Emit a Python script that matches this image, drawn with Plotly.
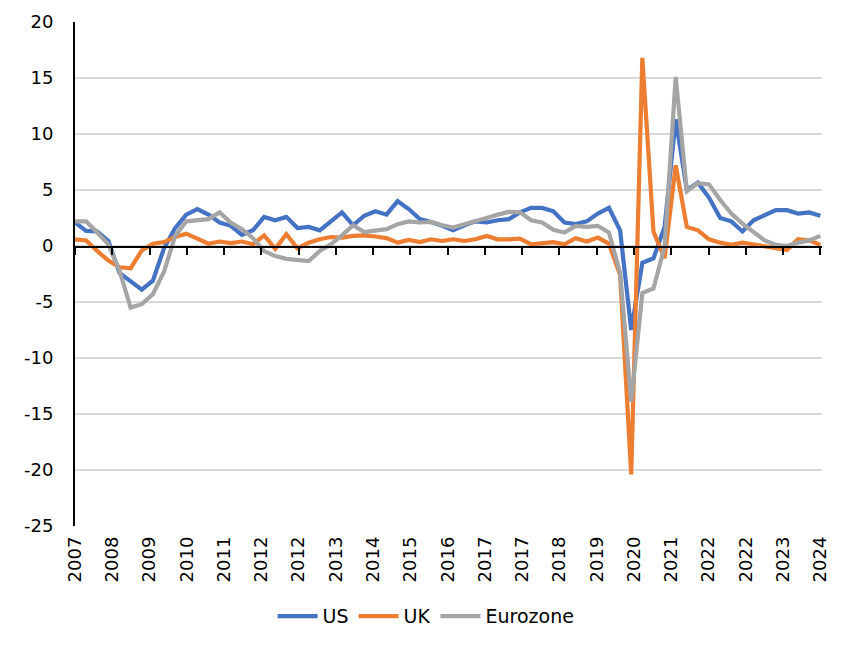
import plotly.graph_objects as go

# Quarterly data, 68 points
us = [2.1, 1.35, 1.3, 0.45, -2.4, -3.1, -3.9, -3.1, -0.2, 1.6,
      2.8, 3.3, 2.8, 2.1, 1.8, 1.0, 1.4, 2.6, 2.3, 2.6,
      1.6, 1.7, 1.4, 2.2, 3.0, 1.85, 2.7, 3.1, 2.8, 4.0,
      3.3, 2.4, 2.15, 1.8, 1.4, 1.85, 2.2, 2.1, 2.3, 2.4,
      3.0, 3.4, 3.4, 3.1, 2.1, 1.95, 2.2, 2.9, 3.4, 1.4,
      -7.5, -1.5, -1.1, 1.7, 11.3, 5.0, 5.65, 4.3, 2.5, 2.2,
      1.3, 2.3, 2.8, 3.2, 3.2, 2.9, 3.0, 2.7]
uk = [0.6, 0.5, -0.45, -1.3, -1.9, -2.0, -0.4, 0.2, 0.35, 0.8,
      1.1, 0.6, 0.2, 0.4, 0.25, 0.4, 0.15, 0.95, -0.25, 1.05,
      -0.2, 0.3, 0.6, 0.8, 0.75, 0.9, 0.95, 0.85, 0.7, 0.3,
      0.55, 0.35, 0.6, 0.45, 0.6, 0.45, 0.6, 0.9, 0.6, 0.6,
      0.65, 0.15, 0.25, 0.35, 0.15, 0.7, 0.4, 0.75, 0.2, -2.6,
      -20.4, 16.8, 1.3, -1.1, 7.2, 1.7, 1.4, 0.6, 0.3, 0.1,
      0.3, 0.15, 0.0, -0.2, -0.35, 0.6, 0.5, 0.1]
eurozone = [2.2, 2.2, 1.2, 0.15, -2.2, -5.5, -5.2, -4.3, -2.3, 0.9,
            2.2, 2.3, 2.4, 3.0, 2.1, 1.5, 0.7, -0.45, -0.9, -1.15,
            -1.25, -1.35, -0.45, 0.15, 0.95, 1.85, 1.25, 1.4, 1.5, 1.95,
            2.2, 2.1, 2.15, 1.85, 1.65, 1.95, 2.2, 2.5, 2.8, 3.05,
            3.0, 2.3, 2.1, 1.45, 1.2, 1.8, 1.7, 1.8, 1.2, -2.4,
            -13.9, -4.2, -3.8, -0.05, 15.1, 4.9, 5.6, 5.5, 4.1, 2.9,
            2.0, 1.3, 0.5, 0.1, 0.0, 0.3, 0.5, 0.9]

tick_labels = ["2007", "2008", "2009", "2010", "2011", "2012", "2012", "2013",
               "2014", "2015", "2016", "2017", "2017", "2018", "2019", "2020",
               "2021", "2022", "2022", "2023", "2024"]
y_ticks = [-25, -20, -15, -10, -5, 0, 5, 10, 15, 20]
y_tick_labels = ["-25", "-20", "-15", "-10", "-5", "0", "5", "10", "15", "20"]

n = len(us)
x = list(range(n))
last = n - 1
tick_vals = [last * k / (len(tick_labels) - 1) for k in range(len(tick_labels))]

FONT = "DejaVu Sans"
fig = go.Figure()
series = [("US", us, "#4472C4"), ("UK", uk, "#ED7D31"), ("Eurozone", eurozone, "#A5A5A5")]
for name, vals, col in series:
    fig.add_trace(go.Scatter(x=x, y=vals, name=name, mode="lines",
                             line=dict(color=col, width=4.2)))
# invisible trace carrying the zero-line axis (x2 anchored to y2 whose bottom is at y=0)
fig.add_trace(go.Scatter(x=x, y=[0.5] * n, xaxis="x2", yaxis="y2", mode="lines",
                         showlegend=False, hoverinfo="skip",
                         line=dict(color="rgba(0,0,0,0)", width=0)))

yr = [-25, 20]
xr = [0, last + 0.15]
zero_pos = (0 - yr[0]) / (yr[1] - yr[0])
fig.update_layout(
    width=846, height=652,
    margin=dict(l=67, r=32, t=14, b=134, autoexpand=False),
    plot_bgcolor="rgba(0,0,0,0)", paper_bgcolor="white",
    font=dict(family=FONT, size=18, color="black"),
    showlegend=True,
    legend=dict(orientation="h", x=0.47, xanchor="center", y=-0.179, yanchor="middle",
                font=dict(size=19, family=FONT), itemwidth=40, traceorder="normal"),
    xaxis=dict(range=xr, domain=[0, 1], tickmode="array", tickvals=tick_vals,
               ticktext=tick_labels, tickangle=-90, showgrid=False, zeroline=False,
               showline=False, ticks="", ticklabelstandoff=6, tickfont=dict(size=18),
               automargin=False),
    xaxis2=dict(range=xr, domain=[0, 1], anchor="y2",
                tickmode="array", tickvals=tick_vals, showticklabels=False,
                showgrid=False, zeroline=False, showline=True, linecolor="black",
                linewidth=2.2, ticks="outside", ticklen=7, tickwidth=2.2, tickcolor="black",
                side="bottom", automargin=False),
    yaxis=dict(range=yr, domain=[0, 1], tickmode="array", tickvals=y_ticks,
               ticktext=y_tick_labels, showgrid=True, gridcolor="#D9D9D9",
               gridwidth=1.5, zeroline=False, showline=True, linecolor="black",
               linewidth=2, ticks="", ticklabelstandoff=16, tickfont=dict(size=18),
               automargin=False),
    yaxis2=dict(domain=[zero_pos, 1], anchor="x2", range=[0, 1], visible=False,
                showgrid=False, zeroline=False, automargin=False),
)

fig.write_html("out.html")
